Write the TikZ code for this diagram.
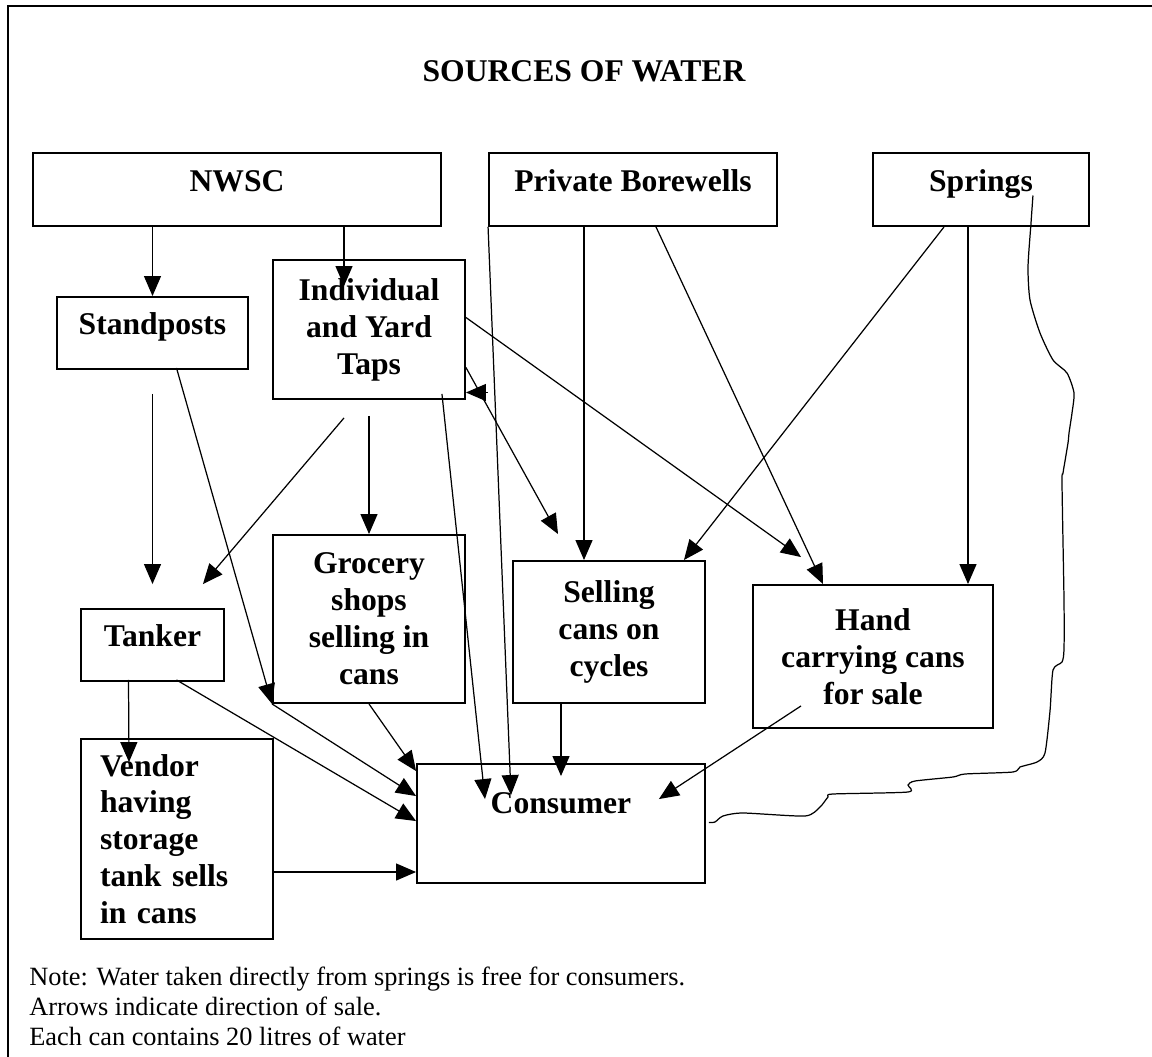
\documentclass[tikz,border=0pt]{standalone}
\usepackage{fontspec}
\setmainfont{Liberation Serif}
\usetikzlibrary{arrows.meta,calc}
\tikzset{
  box/.style={draw, line width=1.1pt, align=center, inner sep=2pt,
    font=\bfseries\fontsize{18}{21}\selectfont},
  oneline/.style={text height=12pt, text depth=10pt},
  arr/.style={-{Triangle[length=0.4cm,width=0.34cm]}, line width=0.7pt},
  notetext/.style={anchor=base west, inner sep=0pt, font=\fontsize{15}{17}\selectfont}
}
\begin{document}
\begin{tikzpicture}[x=0.02cm, y=-0.02cm]
        \useasboundingbox (0,0) rectangle (1152,1057);
        \draw[line width=1.1pt] (8,1057) -- (8,6) -- (1152,6);
        \node[anchor=base, font=\bfseries\fontsize{18}{21}\selectfont] (title) at (584,82) {SOURCES OF WATER};
        \node[box, oneline, minimum width=8.16cm, minimum height=1.46cm] (nwsc) at (237,189.5) {NWSC};
        \node[box, oneline, minimum width=5.76cm, minimum height=1.46cm] (bore) at (633,189.5) {Private Borewells};
        \node[box, oneline, minimum width=4.32cm, minimum height=1.46cm] (spring) at (981,189.5) {Springs};
        \node[box, oneline, minimum width=3.82cm, minimum height=1.44cm] (stand) at (152.5,333) {Standposts};
        \node[box, minimum width=3.84cm, minimum height=2.78cm] (taps) at (369,329.5) {Individual\\and Yard\\Taps};
        \node[box, oneline, minimum width=2.86cm, minimum height=1.44cm] (tanker) at (152.5,645) {Tanker};
        \node[box, minimum width=3.84cm, minimum height=3.36cm] (grocery) at (369,619) {Grocery\\shops\\selling in\\cans};
        \node[box, minimum width=3.84cm, minimum height=2.84cm] (cycle) at (609,632) {Selling\\cans on\\cycles};
        \node[box, minimum width=4.8cm, minimum height=2.86cm] (hand) at (873,656.5) {Hand\\carrying cans\\for sale};
        \node[box, align=left, text width=3.08cm, inner xsep=0.38cm, minimum height=4cm] (vendor) at (177,839) {Vendor\\having\\storage\\tank sells\\in cans};
        \node[box, text height=12pt, text depth=23pt, minimum width=5.76cm, minimum height=2.38cm] (consumer) at (561,823.5) {Consumer};
        \draw[arr] (nwsc.south -| stand.north) -- (stand.north);
        \draw[arr] ($(nwsc.south)+(107,0)$) -- ($(taps.north)+(-25,27)$);
        \draw[arr] ($(stand.south)+(0,24)$) -- ($(tanker.north)+(0,-24)$);
        \draw[arr] ($(stand.south)+(24,-2)$) -- (grocery.south west);
        \draw[arr] (grocery.south west) -- ($(consumer.north west)+(0,33)$);
        \draw[arr] (grocery.south) -- ($(consumer.north west)+(0,8)$);
        \draw[arr] ($(tanker.south)+(24,-2)$) -- ($(consumer.north west)+(0,58)$);
        \draw[arr] ($(tanker.south)+(-24,-2)$) -- ($(vendor.north)+(-48,24)$);
        \coordinate (vout) at ($(vendor.east)+(0,33)$);
        \draw[arr] (vout) -- (vout -| consumer.west);
        \draw[arr] ($(taps.south)+(-25,18)$) -- ($(tanker.north east)+(-22,-24)$);
        \draw[arr] ($(taps.south)+(0,16)$) -- (grocery.north);
        \draw[arr] ($(taps.south east)+(-24,-6)$) -- ($(consumer.north)+(-76,36)$);
        \draw[arr] (bore.south west) -- ($(consumer.north)+(-50,32)$);
        \draw[arr] ($(bore.south)+(-49,0)$) -- ($(cycle.north)+(-25,0)$);
        \draw[arr] ($(bore.south)+(23,0)$) -- ($(hand.north)+(-50,0)$);
        \draw[arr] ($(spring.south)+(-37,0)$) -- ($(cycle.north east)+(-22,0)$);
        \draw[arr] ($(spring.south)+(-13,0)$) -- ($(hand.north)+(95,0)$);
        \draw[arr] ($(taps.east)+(0,-12)$) -- ($(hand.north)+(-72,-27)$);
        \draw[arr] ($(taps.east)+(0,38)$) -- ($(cycle.north)+(-51,-26)$);
        \draw[arr] ($(taps.east)+(22,63)$) -- ($(taps.east)+(0,63)$);
        \draw[arr] (cycle.south -| consumer.north) -- ($(consumer.north)+(0,13)$);
        \draw[arr] ($(hand.south)+(-72,-23)$) -- ($(consumer.north east)+(-47,36)$);
        \coordinate (wstart) at ($(spring.east)+(-57,6)$);
        \coordinate (wend) at ($(consumer.east)+(3,-1)$);
        \draw[line width=0.7pt] plot[smooth, tension=0.4] coordinates {(wstart) (1031,223) (1028,267) (1030,300) (1040,333) (1053,360) (1067,373) (1074,393) (1072,413) (1069,433) (1068,443) (1063,473) (1062,483) (1064,600) (1064,649) (1062,662) (1053,670) (1050,711) (1045,753) (1037,762) (1020,767) (1013,772) (965,774) (953,777) (915,781) (908,785) (908,792) (833,794) (828,797) (820,807) (805,816) (743,813) (723,816) (715,822) (wend)};
        \node[notetext] (note1) at (29,985) {Note: Water taken directly from springs is free for consumers.};
        \node[notetext] (note2) at (29,1015) {Arrows indicate direction of sale.};
        \node[notetext] (note3) at (29,1045) {Each can contains 20 litres of water};
    \end{tikzpicture}
\end{document}
